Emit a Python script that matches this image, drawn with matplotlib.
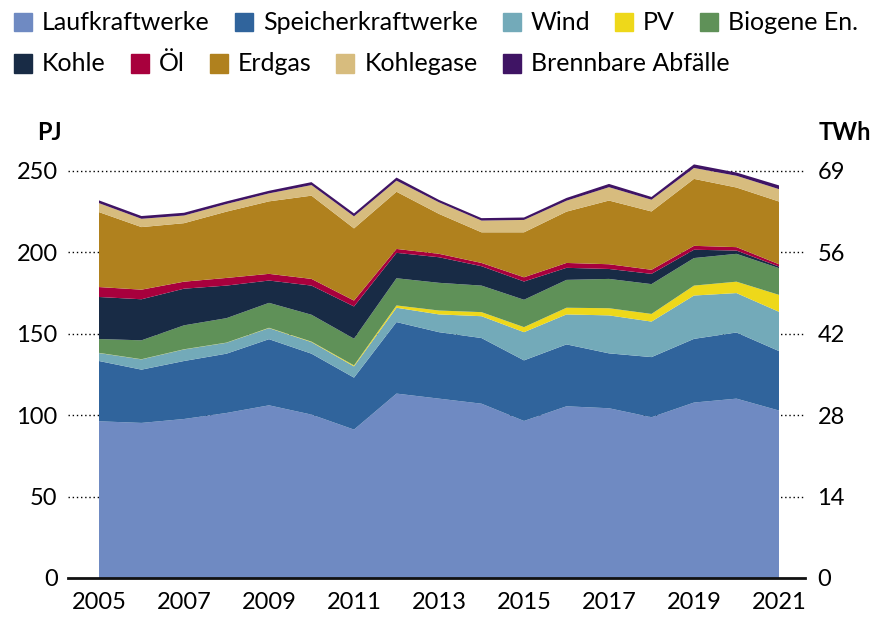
import matplotlib
matplotlib.use("Agg")
import matplotlib.pyplot as plt
from matplotlib.patches import Rectangle
import numpy as np

plt.rcParams['font.family'] = ['Lato', 'DejaVu Sans']

years = list(range(2005, 2022))
series_names = ["Laufkraftwerke", "Speicherkraftwerke", "Wind", "PV", "Biogene En.",
                "Kohle", "Öl", "Erdgas", "Kohlegase", "Brennbare Abfälle"]

laufkraftwerke = [96.2, 95.2, 97.6, 101.3, 106.0, 100.3, 91.1, 113.2, 110.1, 107.0, 96.4, 105.4, 104.2, 98.7, 107.7, 110.1, 102.8]
speicherkraftwerke = [37.0, 32.7, 35.6, 36.4, 40.6, 37.4, 31.9, 43.9, 40.8, 40.3, 37.2, 38.0, 33.7, 36.9, 39.1, 40.6, 36.5]
wind = [4.9, 6.3, 7.1, 6.7, 6.8, 7.1, 6.9, 8.8, 10.9, 13.4, 17.3, 18.4, 23.3, 21.8, 26.6, 24.2, 24.1]
pv = [0.1, 0.1, 0.1, 0.1, 0.2, 0.3, 0.6, 1.4, 2.4, 2.5, 3.1, 4.1, 4.4, 4.7, 6.1, 7.0, 10.4]
biogene = [8.5, 11.6, 14.7, 15.0, 15.3, 16.5, 16.4, 16.7, 17.0, 16.3, 16.8, 17.1, 18.0, 18.3, 16.9, 17.1, 16.4]
kohle = [25.8, 25.2, 22.5, 20.0, 13.7, 17.9, 19.8, 15.6, 15.7, 11.9, 11.2, 7.4, 6.1, 6.3, 5.1, 2.0, 1.0]
oel = [6.1, 5.9, 4.3, 4.7, 4.1, 4.1, 3.6, 2.4, 2.1, 2.0, 2.6, 3.0, 2.9, 2.5, 2.4, 2.1, 1.4]
erdgas = [46.0, 38.4, 35.9, 40.7, 44.5, 51.1, 44.3, 35.1, 24.5, 18.8, 27.6, 31.5, 39.1, 35.8, 41.1, 36.6, 38.5]
kohlegase = [5.5, 5.1, 4.7, 4.7, 4.9, 6.5, 7.4, 6.8, 7.1, 7.2, 7.6, 6.7, 8.2, 7.2, 6.7, 7.2, 7.6]
abfaelle = [1.7, 1.7, 1.7, 1.6, 1.6, 1.8, 1.8, 1.9, 1.5, 1.5, 1.5, 1.7, 2.0, 1.7, 2.2, 2.0, 2.3]

colors = ["#6F8AC2", "#30649C", "#73AAB9", "#EED81A", "#5F9158",
          "#182B45", "#A8003D", "#B0811E", "#D7BC7E", "#3F1464"]

pj_ticks = [0, 50, 100, 150, 200, 250]
twh_labels = ["0", "14", "28", "42", "56", "69"]
x_ticks = [2005, 2007, 2009, 2011, 2013, 2015, 2017, 2019, 2021]

W, H = 875, 621
fig = plt.figure(figsize=(W / 100, H / 100), dpi=100)
ax = fig.add_axes([68 / W, 43 / H, (805 - 68) / W, (578 - 146.3) / H])

data = [laufkraftwerke, speicherkraftwerke, wind, pv, biogene, kohle, oel, erdgas, kohlegase, abfaelle]
ax.stackplot(years, data, colors=colors, linewidth=0, zorder=2)

for t in pj_ticks[1:]:
    ax.axhline(t, color="black", lw=1.0, linestyle=(0, (1, 2)), zorder=1)

ax.set_xlim(2005 - 31 / 42.5, 2021 + 26 / 42.5)
ax.set_ylim(0, 265)
for s in ["top", "right", "left"]:
    ax.spines[s].set_visible(False)
ax.spines["bottom"].set_linewidth(2)
ax.spines["bottom"].set_color("#111111")
ax.spines["bottom"].set_zorder(5)

ax.set_yticks(pj_ticks)
ax.set_yticklabels([str(t) for t in pj_ticks])
ax.set_xticks(x_ticks)
ax.set_xticklabels([str(y) for y in x_ticks])
ax.tick_params(axis="y", length=0, pad=7.5, labelsize=17)
ax.tick_params(axis="x", length=0, pad=10, labelsize=17)

ax2 = ax.twinx()
ax2.set_ylim(ax.get_ylim())
ax2.set_yticks(pj_ticks)
ax2.set_yticklabels(twh_labels)
ax2.tick_params(axis="y", length=0, pad=9, labelsize=17)
for s in ["top", "right", "left", "bottom"]:
    ax2.spines[s].set_visible(False)

fig.text(37 / W, 1 - 132 / H, "PJ", fontsize=17, fontweight="bold", va="center", ha="left")
fig.text(871 / W, 1 - 132 / H, "TWh", fontsize=17, fontweight="bold", va="center", ha="right")

# legend
fig.canvas.draw()
renderer = fig.canvas.get_renderer()
rows = [(list(range(0, 5)), 22), (list(range(5, 10)), 63.5)]
for idx, ycen in rows:
    x = 14
    for i in idx:
        fig.patches.append(Rectangle((x / W, 1 - (ycen + 9) / H), 18 / W, 18 / H,
                                     transform=fig.transFigure, color=colors[i], figure=fig))
        t = fig.text((x + 28) / W, 1 - ycen / H, series_names[i], fontsize=18,
                     va="center", ha="left")
        w = t.get_window_extent(renderer).width
        x = x + 28 + w + 25

fig.savefig("out.png", dpi=100)
